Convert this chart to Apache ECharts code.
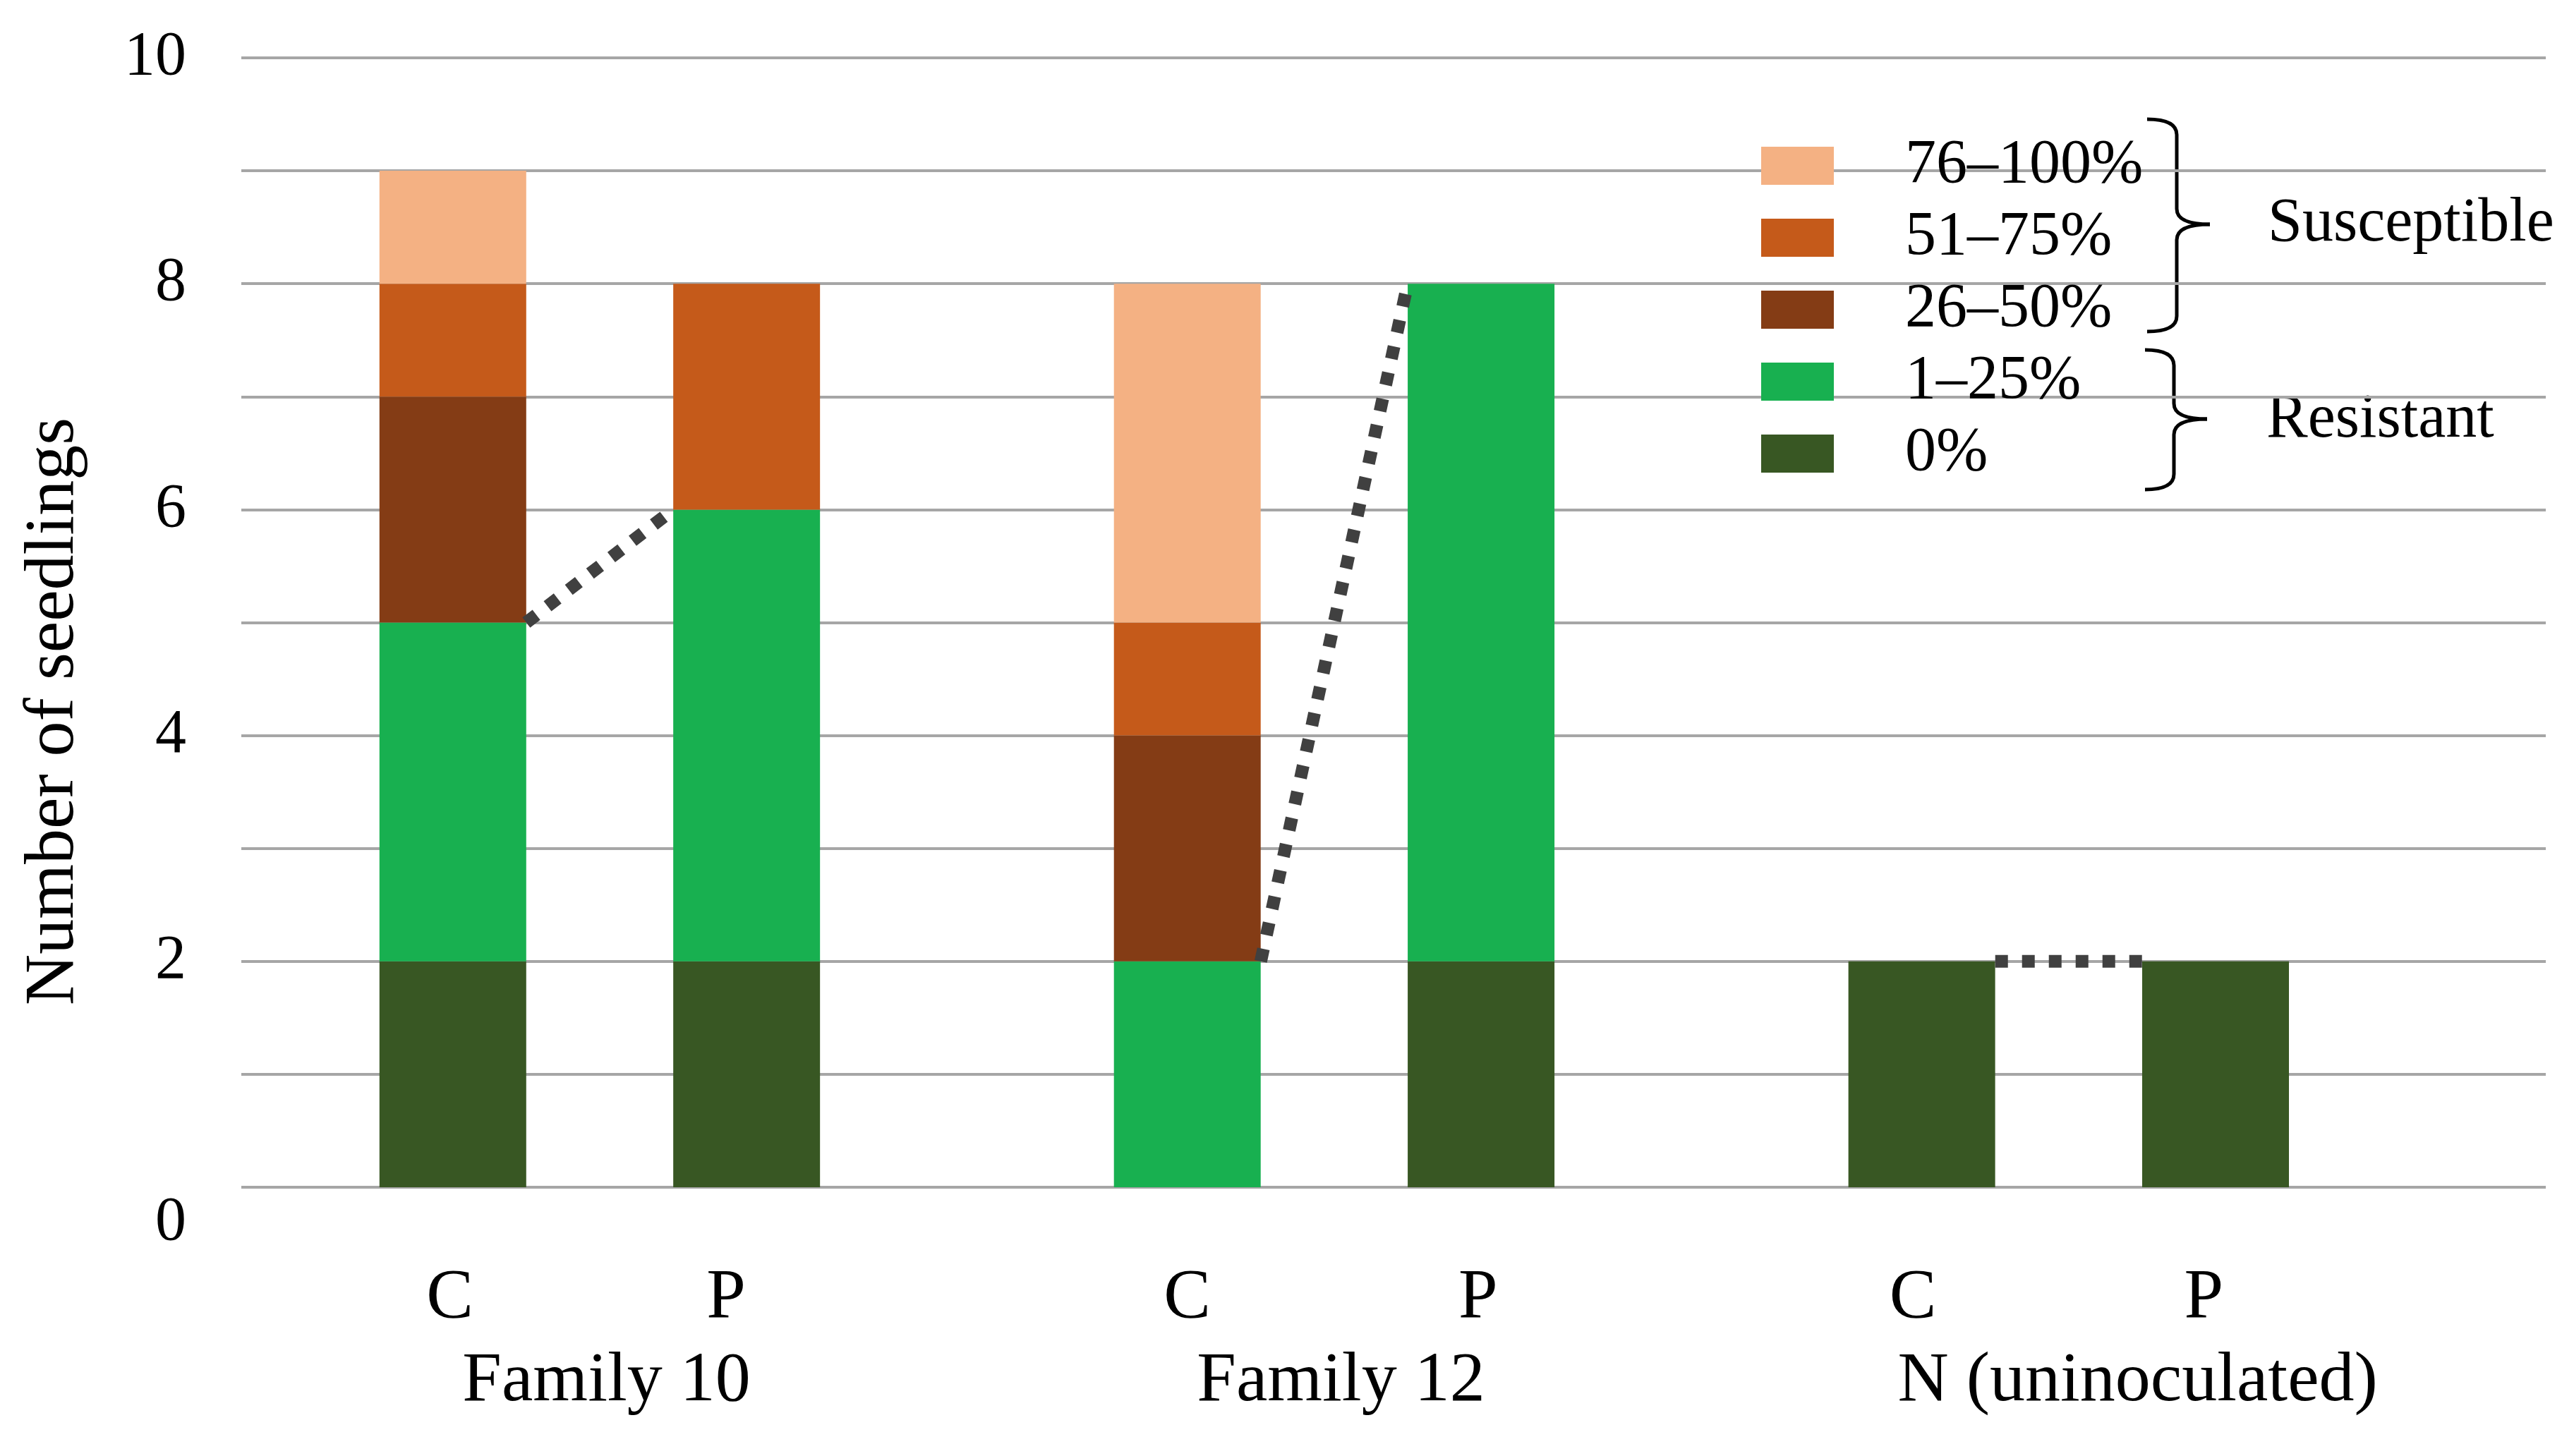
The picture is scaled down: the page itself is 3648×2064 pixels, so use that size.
<!DOCTYPE html>
<html>
<head>
<meta charset="utf-8">
<script src="https://cdn.jsdelivr.net/npm/echarts@6/dist/echarts.min.js"></script>
<style>
html,body{margin:0;padding:0;background:#fff;}
#chart{width:3648px;height:2064px;}
</style>
</head>
<body>
<div id="chart"></div>
<script>
// ---- data ----
const categories = ['C', 'P', 'C', 'P', 'C', 'P'];
const groups = ['Family 10', 'Family 12', 'N (uninoculated)'];
const seriesNames = ['0%', '1–25%', '26–50%', '51–75%', '76–100%'];
const v0 = [2, 2, 0, 2, 2, 2];        // 0%
const v1 = [3, 4, 2, 6, 0, 0];        // 1–25%
const v2 = [2, 0, 2, 0, 0, 0];        // 26–50%
const v3 = [1, 2, 1, 0, 0, 0];        // 51–75%
const v4 = [1, 0, 3, 0, 0, 0];        // 76–100%
const yTickLabels = [0, 2, 4, 6, 8, 10];
const braceLabels = ['Susceptible', 'Resistant'];

// ---- style / layout ----
const colors = ['#385723', '#18B050', '#843C15', '#C55A1A', '#F4B183'];
const FONT = "'Liberation Serif', 'Times New Roman', serif";
const values = [v0, v1, v2, v3, v4];
const slot = i => Math.floor(i / 2) * 2.5 + (i % 2);
const xs = categories.map((c, i) => slot(i));
const halfBar = 0.25;
const catLabelShift = [-0.01, -0.07, 0, -0.01, -0.03, -0.04];
const catLabelPos = xs.map((x, i) => x + catLabelShift[i]);
const groupLabelShift = [0.023, 0.023, 0.235];
const groupPos = groups.map((g, k) => k * 2.5 + 0.5 + groupLabelShift[k]);
const X_MIN = -0.72, X_MAX = 7.124;

const series = seriesNames.map((name, s) => ({
  name: name,
  type: 'bar',
  stack: 'total',
  barWidth: 208,
  itemStyle: { color: colors[s] },
  encode: { x: 1, y: 0 },
  data: values[s].map((v, i) => [v, xs[i]]),
  z: 2
}));

const resistant = categories.map((c, i) => v0[i] + v1[i]);
groups.forEach((g, k) => {
  const a = 2 * k, b = 2 * k + 1;
  series.push({
    type: 'line',
    name: 'link' + k,
    symbol: 'none',
    silent: true,
    z: 5,
    lineStyle: { color: '#404040', width: 18, type: [18, 20], cap: 'butt' },
    data: [[xs[a] + halfBar, resistant[a]], [xs[b] - halfBar, resistant[b]]]
  });
});

const braceStyle = { fill: null, stroke: '#000', lineWidth: 5 };
function brace(x0, xv, xt, yt, ym, yb) {
  const r = 22;
  return [
    { type: 'bezierCurve', shape: { x1: x0, y1: yt, cpx1: xv, cpy1: yt, x2: xv, y2: yt + r }, style: braceStyle },
    { type: 'line', shape: { x1: xv, y1: yt + r, x2: xv, y2: ym - r }, style: braceStyle },
    { type: 'bezierCurve', shape: { x1: xv, y1: ym - r, cpx1: xv, cpy1: ym, x2: xt, y2: ym }, style: braceStyle },
    { type: 'bezierCurve', shape: { x1: xt, y1: ym, cpx1: xv, cpy1: ym, x2: xv, y2: ym + r }, style: braceStyle },
    { type: 'line', shape: { x1: xv, y1: ym + r, x2: xv, y2: yb - r }, style: braceStyle },
    { type: 'bezierCurve', shape: { x1: xv, y1: yb - r, cpx1: xv, cpy1: yb, x2: x0, y2: yb }, style: braceStyle }
  ];
}

const chart = echarts.init(document.getElementById('chart'));
chart.setOption({
  animation: false,
  backgroundColor: '#ffffff',
  grid: { left: 342, right: 40, top: 82, bottom: 381, containLabel: false },
  legend: {
    orient: 'vertical',
    left: 2496,
    top: 191,
    padding: 0,
    itemWidth: 103,
    itemHeight: 54,
    itemGap: 14,
    icon: 'rect',
    data: seriesNames.slice().reverse(),
    textStyle: { fontFamily: FONT, fontSize: 88, color: '#000', padding: [0, 0, 0, 96] }
  },
  xAxis: [
    {
      type: 'value', min: X_MIN, max: X_MAX,
      axisLine: { show: false }, axisTick: { show: false }, splitLine: { show: false },
      axisLabel: {
        customValues: catLabelPos,
        formatter: v => { const i = catLabelPos.findIndex(x => Math.abs(x - v) < 1e-6); return i >= 0 ? categories[i] : ''; },
        margin: 108, fontFamily: FONT, fontSize: 100, color: '#000'
      }
    },
    {
      type: 'value', min: X_MIN, max: X_MAX, position: 'bottom',
      axisLine: { show: false }, axisTick: { show: false }, splitLine: { show: false },
      axisLabel: {
        customValues: groupPos,
        formatter: v => { const k = groupPos.findIndex(x => Math.abs(x - v) < 1e-6); return k >= 0 ? groups[k] : ''; },
        margin: 226, fontFamily: FONT, fontSize: 100, color: '#000'
      }
    }
  ],
  yAxis: {
    type: 'value', min: 0, max: 10, interval: 1,
    name: 'Number of seedlings',
    nameLocation: 'middle',
    nameRotate: 90,
    nameGap: 215,
    nameTextStyle: { fontFamily: FONT, fontSize: 100, color: '#000', padding: [0, 252, 0, 0] },
    axisLine: { show: false }, axisTick: { show: false },
    splitLine: { show: true, lineStyle: { color: '#a6a6a6', width: 4 } },
    axisLabel: {
      margin: 78, fontFamily: FONT, fontSize: 88, color: '#000',
      formatter: v => yTickLabels.indexOf(v) < 0 ? '' : (v === 0 ? '{z|0}' : String(v)),
      rich: { z: { fontFamily: FONT, fontSize: 88, color: '#000', padding: [102, 0, 0, 0] } }
    }
  },
  graphic: [].concat(
    brace(3043, 3085, 3132, 169, 318, 470),
    brace(3040, 3081, 3128, 496, 594, 694),
    [
      { type: 'text', x: 3214, y: 318, style: { text: braceLabels[0], font: `88px ${FONT}`, fill: '#000', textAlign: 'left', textVerticalAlign: 'middle' } },
      { type: 'text', x: 3212, y: 596, style: { text: braceLabels[1], font: `88px ${FONT}`, fill: '#000', textAlign: 'left', textVerticalAlign: 'middle' } }
    ]
  ),
  series: series
});
</script>
</body>
</html>
